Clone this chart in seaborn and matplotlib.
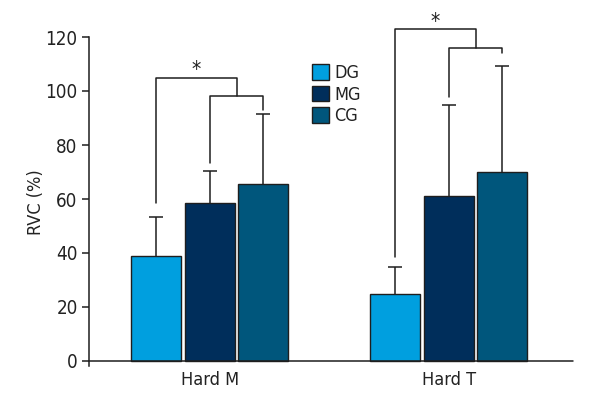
import matplotlib
matplotlib.use("Agg")
import matplotlib.pyplot as plt
import numpy as np
import pandas as pd
import seaborn as sns

# Data
conditions = ["Hard M", "Hard T"]
groups = ["DG", "MG", "CG"]
means = {"DG": [38.9, 24.8], "MG": [58.5, 61.0], "CG": [65.7, 70.1]}
errors = {"DG": [14.3, 10.0], "MG": [11.7, 33.8], "CG": [25.7, 39.3]}

# significance brackets per condition: outer (DG vs rest) and inner (MG-CG)
outer_top = [105.0, 122.8]
inner_top = [98.1, 116.0]
dg_leg_bottom = [58.6, 38.6]
mg_leg_bottom = [73.2, 97.9]
cg_leg_bottom = [93.0, 113.9]

COLORS = ["#009FDF", "#002E5B", "#00567C"]
EDGE = "#1e1e1e"

sns.set_theme(style="white")
plt.rcParams["font.family"] = ["DejaVu Sans"]
plt.rcParams["font.stretch"] = "condensed"

df = pd.DataFrame(
    [(c, g, means[g][i]) for g in groups for i, c in enumerate(conditions)],
    columns=["condition", "group", "value"],
)

fig = plt.figure(figsize=(6, 4), dpi=100)
ax = fig.add_axes([0.148, 0.084, 0.807, 0.8235])

sns.barplot(data=df, x="condition", y="value", hue="group", order=conditions,
            hue_order=groups, palette=COLORS, saturation=1, width=0.671, gap=0.066,
            edgecolor=EDGE, linewidth=1.0, errorbar=None, ax=ax)

# error bars (upper only) and bar centres
centres = {}
for g, cont in zip(groups, ax.containers):
    xs = [p.get_x() + p.get_width() / 2 for p in cont.patches]
    centres[g] = xs
    eb = ax.errorbar(xs, means[g], yerr=[np.zeros(len(xs)), errors[g]], fmt="none",
                     ecolor=EDGE, elinewidth=1.1, capsize=5, capthick=1.1, zorder=3)
    eb[1][0].set_visible(False)  # drop the cap sitting on the bar top

# brackets
lw = 1.1
for i in range(len(conditions)):
    xd, xm, xc = centres["DG"][i], centres["MG"][i], centres["CG"][i]
    mid_inner = (xm + xc) / 2
    ax.plot([xm, xm, xc, xc], [mg_leg_bottom[i], inner_top[i], inner_top[i], cg_leg_bottom[i]],
            color=EDGE, lw=lw, clip_on=False)
    ax.plot([xd, xd, mid_inner, mid_inner], [dg_leg_bottom[i], outer_top[i], outer_top[i], inner_top[i]],
            color=EDGE, lw=lw, clip_on=False)
    ax.text((xd + mid_inner) / 2, outer_top[i] - 0.8, "*", ha="center", va="bottom",
            fontsize=15, color="#222222", clip_on=False)

ax.set_xlim(-0.506, 1.519)
ax.set_ylim(-2, 120)
ax.set_yticks([0, 20, 40, 60, 80, 100, 120])
ax.set_xlabel("")
ax.set_ylabel("RVC (%)", fontsize=13, color="#222222", labelpad=0)

for s in ["top", "right", "bottom"]:
    ax.spines[s].set_visible(False)
ax.spines["left"].set_color(EDGE)
ax.spines["left"].set_linewidth(1.1)
ax.axhline(0, color=EDGE, lw=1.1, zorder=4, clip_on=False)

ax.tick_params(axis="y", left=True, length=5, width=1.1, color=EDGE,
               labelsize=13.5, labelcolor="#222222", pad=3)
ax.tick_params(axis="x", bottom=False, length=0, labelsize=13, labelcolor="#222222", pad=3.5)

handles, labels = ax.get_legend_handles_labels()
ax.legend(handles, labels, loc="upper left", bbox_to_anchor=(312 / 600, 1 - 64 / 400),
          bbox_transform=fig.transFigure, frameon=False, fontsize=13,
          handlelength=0.95, handleheight=0.95, labelspacing=0.2,
          handletextpad=0.3, borderpad=0, borderaxespad=0, labelcolor="#222222")

fig.savefig("out.png", dpi=100)
